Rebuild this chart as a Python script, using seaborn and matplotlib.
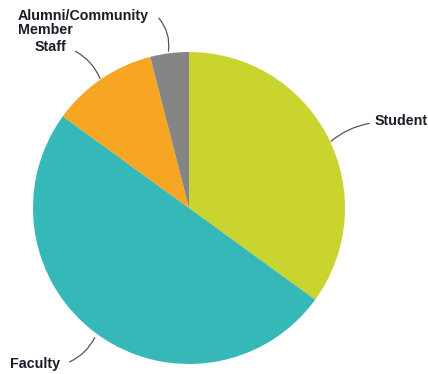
import matplotlib
matplotlib.use("Agg")
import matplotlib.pyplot as plt
import seaborn as sns

groups = ["Student", "Faculty", "Staff", "Alumni/Community\nMember"]
shares = [35, 50, 11, 4]
colors = ["#c9d52e", "#36b8b8", "#f6a623", "#858585"]

sns.set_theme(style="white")
plt.rcParams["font.family"] = ["Liberation Sans", "DejaVu Sans"]

W, H = 428, 374
fig = plt.figure(figsize=(W / 100, H / 100), dpi=100)
cx, cy, r = 189, 208, 156
ax = fig.add_axes([(cx - r) / W, (H - cy - r) / H, 2 * r / W, 2 * r / H])
ax.pie(shares, colors=colors, startangle=90, counterclock=False, radius=1,
       wedgeprops=dict(linewidth=0))
ax.set_xlim(-1, 1)
ax.set_ylim(-1, 1)
ax.set_aspect("auto")
ax.axis("off")


def d(px, py):
    return ((px - cx) / r, (cy - py) / r)


txt = dict(fontsize=10.3, fontweight="bold", color="#1c1c2a", clip_on=False)
line = dict(arrowstyle="-", color="#555555", lw=0.9)

# Student
ax.annotate("", xy=d(329, 143), xytext=d(372, 123),
            arrowprops=dict(line, connectionstyle="arc3,rad=0.15"))
ax.text(*d(375, 121), groups[0], ha="left", va="center", **txt)

# Faculty
ax.annotate("", xy=d(96, 335), xytext=d(67, 363),
            arrowprops=dict(line, connectionstyle="arc3,rad=0.2"))
ax.text(*d(10, 364), groups[1], ha="left", va="center", **txt)

# Staff
ax.annotate("", xy=d(101, 81), xytext=d(73, 50),
            arrowprops=dict(line, connectionstyle="arc3,rad=-0.2"))
ax.text(*d(35, 47), groups[2], ha="left", va="center", **txt)

# Alumni / Community Member
ax.annotate("", xy=d(168, 54), xytext=d(157, 16),
            arrowprops=dict(line, connectionstyle="arc3,rad=-0.25"))
ax.text(*d(18, 23), groups[3], ha="left", va="center", linespacing=1.05, **txt)

fig.savefig("out.png", dpi=100)
